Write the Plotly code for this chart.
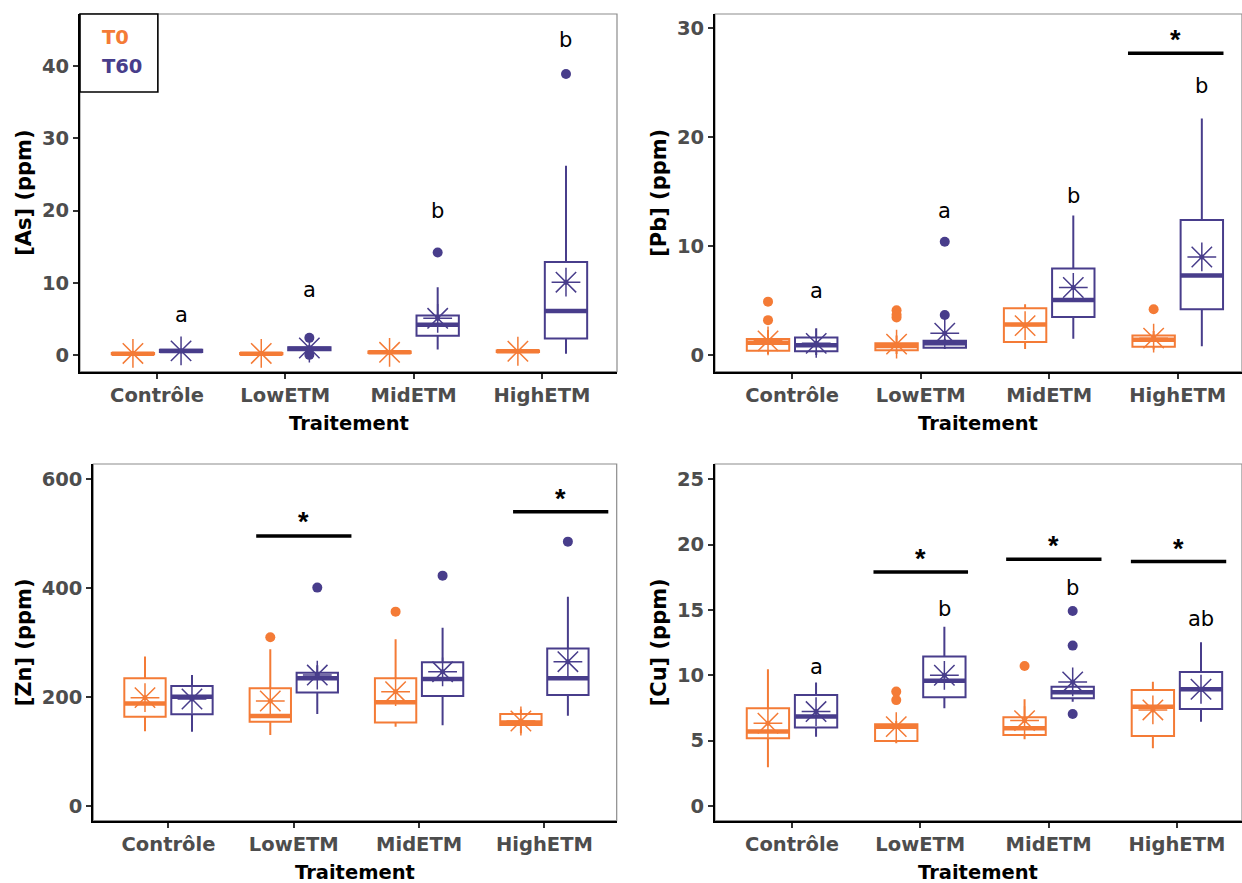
import plotly.graph_objects as go
from plotly.subplots import make_subplots

# ------------------------------------------------------------------ data
categories = ["Contrôle", "LowETM", "MidETM", "HighETM"]
groups = ["T0", "T60"]

# [As]
as_t0_q1 = [0.15, 0.15, 0.30, 0.45]
as_t0_med = [0.22, 0.22, 0.40, 0.55]
as_t0_q3 = [0.30, 0.30, 0.50, 0.65]
as_t0_lo = [0.05, 0.05, 0.15, 0.30]
as_t0_hi = [0.45, 0.40, 0.65, 0.80]
as_t0_mean = [0.25, 0.25, 0.40, 0.55]
as_t0_out = [[], [], [], []]
as_t60_q1 = [0.45, 0.70, 2.7, 2.3]
as_t60_med = [0.60, 0.90, 4.2, 6.1]
as_t60_q3 = [0.75, 1.10, 5.5, 12.9]
as_t60_lo = [0.30, 0.50, 0.8, 0.2]
as_t60_hi = [0.90, 1.40, 9.4, 26.2]
as_t60_mean = [0.60, 1.00, 5.1, 10.1]
as_t60_out = [[], [2.4, 0.05], [14.2], [38.9]]
as_letters = ["a", "a", "b", "b"]
as_letter_y = [5.5, 9.0, 20.0, 43.6]
as_sig = []            # (category, bar y, star y)

# [Pb]
pb_t0_q1 = [0.40, 0.45, 1.2, 0.75]
pb_t0_med = [1.13, 0.83, 2.8, 1.40]
pb_t0_q3 = [1.47, 1.07, 4.3, 1.80]
pb_t0_lo = [0.10, 0.10, 0.55, 0.50]
pb_t0_hi = [2.30, 1.80, 4.65, 2.20]
pb_t0_mean = [1.30, 1.00, 2.70, 1.55]
pb_t0_out = [[4.9, 3.2], [4.1, 3.7, 3.45], [], [4.2]]
pb_t60_q1 = [0.35, 0.67, 3.5, 4.2]
pb_t60_med = [0.90, 1.07, 5.05, 7.3]
pb_t60_q3 = [1.60, 1.30, 7.95, 12.4]
pb_t60_lo = [0.00, 0.55, 1.5, 0.8]
pb_t60_hi = [2.45, 1.50, 12.8, 21.7]
pb_t60_mean = [1.07, 2.00, 6.2, 9.0]
pb_t60_out = [[], [10.4, 3.67], [], []]
pb_letters = ["a", "a", "b", "b"]
pb_letter_y = [5.9, 13.2, 14.6, 24.7]
pb_sig = [("HighETM", 27.7, 29.6)]

# [Zn]
zn_t0_q1 = [163.6, 154.4, 153.0, 148.3]
zn_t0_med = [188.0, 164.9, 190.0, 153.0]
zn_t0_q3 = [234.0, 215.7, 234.0, 168.5]
zn_t0_lo = [137.0, 130.0, 145.0, 133.0]
zn_t0_hi = [274.0, 287.4, 306.0, 177.0]
zn_t0_mean = [198.6, 192.4, 209.5, 155.6]
zn_t0_out = [[], [309.5], [356.6], []]
zn_t60_q1 = [168.0, 207.8, 201.6, 203.4]
zn_t60_med = [200.4, 234.0, 232.8, 234.0]
zn_t60_q3 = [220.0, 244.5, 263.5, 289.0]
zn_t60_lo = [136.0, 168.5, 148.0, 165.4]
zn_t60_hi = [240.0, 258.0, 327.0, 384.0]
zn_t60_mean = [196.0, 240.0, 246.0, 264.7]
zn_t60_out = [[], [400.8], [422.8], [485.3]]
zn_letters = ["", "", "", ""]
zn_letter_y = [0, 0, 0, 0]
zn_sig = [("LowETM", 495.8, 534.4), ("HighETM", 540.4, 577.2)]

# [Cu]
cu_t0_q1 = [5.18, 4.97, 5.43, 5.36]
cu_t0_med = [5.69, 6.07, 5.94, 7.60]
cu_t0_q3 = [7.47, 6.25, 6.79, 8.88]
cu_t0_lo = [2.96, 4.80, 5.10, 4.41]
cu_t0_hi = [10.46, 6.50, 8.16, 9.50]
cu_t0_mean = [6.33, 6.07, 6.53, 7.35]
cu_t0_out = [[], [8.75, 8.1], [10.71], []]
cu_t60_q1 = [6.00, 8.32, 8.24, 7.42]
cu_t60_med = [6.84, 9.59, 8.70, 8.93]
cu_t60_q3 = [8.50, 11.43, 9.13, 10.26]
cu_t60_lo = [5.30, 7.47, 7.98, 6.45]
cu_t60_hi = [9.44, 13.72, 9.50, 12.53]
cu_t60_mean = [7.22, 10.00, 9.49, 8.93]
cu_t60_out = [[], [], [14.92, 12.27, 7.04], []]
cu_letters = ["a", "b", "b", "ab"]
cu_letter_y = [10.66, 15.1, 16.66, 14.3]
cu_sig = [("LowETM", 17.9, 19.46), ("MidETM", 18.88, 20.4), ("HighETM", 18.7, 20.2)]

as_ticks = [0, 10, 20, 30, 40]
pb_ticks = [0, 10, 20, 30]
zn_ticks = [0, 200, 400, 600]
cu_ticks = [0, 5, 10, 15, 20, 25]

# ------------------------------------------------------------------ style / layout
COL = {"T0": "#F47B36", "T60": "#483D8B"}
OFFSET = {"T0": -0.1875, "T60": 0.1875}
BOX_W = 0.33
FONT = "DejaVu Sans, Verdana, sans-serif"
STAR_FONT = "Liberation Sans, Arial, sans-serif"
TICK_SIZE = 19.5
YTITLE_SIZE = 21
W, H = 1242, 883

# panel pixel boxes (left, right, top, bottom) and axis ranges
PANEL_PX = [(80, 617, 14, 371.7), (715, 1242, 14, 371.7),
            (93.3, 616.7, 464, 820.7), (715, 1242, 464, 820.7)]
X_RANGE = [[0.4, 4.585], [0.4, 4.5], [0.4, 4.577], [0.4, 4.507]]
Y_RANGE = [[-2.28, 47.2], [-1.53, 31.3], [-27.6, 628], [-1.13, 26.17]]
YTITLE_X = [24, 659, 24, 659]
XTITLE_DY = 52
# significance bar span relative to category centre
BAR_SPAN = {1: {"HighETM": (-0.387, 0.356)},
            2: {"LowETM": (-0.30, 0.46), "HighETM": (-0.25, 0.51)},
            3: {"LowETM": (-0.365, 0.372), "MidETM": (-0.331, 0.412), "HighETM": (-0.359, 0.384)}}

panels = [
    dict(title="[As] (ppm)", ticks=as_ticks, letters=as_letters, letter_y=as_letter_y, sig=as_sig,
         T0=(as_t0_q1, as_t0_med, as_t0_q3, as_t0_lo, as_t0_hi, as_t0_mean, as_t0_out),
         T60=(as_t60_q1, as_t60_med, as_t60_q3, as_t60_lo, as_t60_hi, as_t60_mean, as_t60_out)),
    dict(title="[Pb] (ppm)", ticks=pb_ticks, letters=pb_letters, letter_y=pb_letter_y, sig=pb_sig,
         T0=(pb_t0_q1, pb_t0_med, pb_t0_q3, pb_t0_lo, pb_t0_hi, pb_t0_mean, pb_t0_out),
         T60=(pb_t60_q1, pb_t60_med, pb_t60_q3, pb_t60_lo, pb_t60_hi, pb_t60_mean, pb_t60_out)),
    dict(title="[Zn] (ppm)", ticks=zn_ticks, letters=zn_letters, letter_y=zn_letter_y, sig=zn_sig,
         T0=(zn_t0_q1, zn_t0_med, zn_t0_q3, zn_t0_lo, zn_t0_hi, zn_t0_mean, zn_t0_out),
         T60=(zn_t60_q1, zn_t60_med, zn_t60_q3, zn_t60_lo, zn_t60_hi, zn_t60_mean, zn_t60_out)),
    dict(title="[Cu] (ppm)", ticks=cu_ticks, letters=cu_letters, letter_y=cu_letter_y, sig=cu_sig,
         T0=(cu_t0_q1, cu_t0_med, cu_t0_q3, cu_t0_lo, cu_t0_hi, cu_t0_mean, cu_t0_out),
         T60=(cu_t60_q1, cu_t60_med, cu_t60_q3, cu_t60_lo, cu_t60_hi, cu_t60_mean, cu_t60_out)),
]

fig = make_subplots(rows=2, cols=2)
annotations = []
shapes = []

for i, p in enumerate(panels):
    row, col = i // 2 + 1, i % 2 + 1
    n = i + 1
    xref = "x" if n == 1 else f"x{n}"
    yref = "y" if n == 1 else f"y{n}"
    cat_pos = list(range(1, len(categories) + 1))

    for g in groups:
        q1, med, q3, lo, hi, mean, out = p[g]
        pos = [c + OFFSET[g] for c in cat_pos]
        fig.add_trace(go.Box(x=pos, q1=q1, median=med, q3=q3, lowerfence=lo, upperfence=hi,
                             orientation="v", width=BOX_W, boxpoints=False, whiskerwidth=0,
                             line=dict(color=COL[g], width=2), fillcolor="rgba(255,255,255,0)",
                             showlegend=False, hoverinfo="skip"), row=row, col=col)
        # thicker median
        mx, my = [], []
        for x, m in zip(pos, med):
            mx += [x - BOX_W / 2, x + BOX_W / 2, None]
            my += [m, m, None]
        fig.add_trace(go.Scatter(x=mx, y=my, mode="lines", line=dict(color=COL[g], width=4.5),
                                 showlegend=False, hoverinfo="skip"), row=row, col=col)
        # outliers
        ox, oy = [], []
        for x, vals in zip(pos, out):
            ox += [x] * len(vals)
            oy += vals
        fig.add_trace(go.Scatter(x=ox, y=oy, mode="markers",
                                 marker=dict(color=COL[g], size=10, symbol="circle"),
                                 showlegend=False, hoverinfo="skip"), row=row, col=col)
        # means
        fig.add_trace(go.Scatter(x=pos, y=mean, mode="markers",
                                 marker=dict(symbol="asterisk-open", size=24, color=COL[g],
                                             line=dict(color=COL[g], width=1.5)),
                                 showlegend=False, hoverinfo="skip"), row=row, col=col)
        fig.add_trace(go.Scatter(x=pos, y=mean, mode="markers",
                                 marker=dict(symbol="circle", size=5, color=COL[g]),
                                 showlegend=False, hoverinfo="skip"), row=row, col=col)

    # letters at T60 position
    for c, lab, ly in zip(cat_pos, p["letters"], p["letter_y"]):
        if lab:
            annotations.append(dict(x=c + OFFSET["T60"], y=ly, xref=xref, yref=yref, text=lab,
                                    showarrow=False, font=dict(family=FONT, size=21, color="black")))
    # significance bars
    for cat, by, sy in p["sig"]:
        c = categories.index(cat) + 1
        a, b = BAR_SPAN[i][cat]
        fig.add_trace(go.Scatter(x=[c + a, c + b], y=[by, by], mode="lines",
                                 line=dict(color="black", width=3.5),
                                 showlegend=False, hoverinfo="skip"), row=row, col=col)
        annotations.append(dict(x=c + (a + b) / 2, y=sy, xref=xref, yref=yref, text="*",
                                showarrow=False, yshift=-7,
                                font=dict(family=STAR_FONT, size=27, color="black", weight="bold")))

    l, r, t, b = PANEL_PX[i]
    fig.update_xaxes(domain=[l / W, r / W], range=X_RANGE[i], tickvals=cat_pos, ticktext=categories,
                     showline=True, linecolor="black", linewidth=2, mirror=False,
                     ticks="outside", ticklen=5, tickwidth=1.5, tickcolor="#333333",
                     showgrid=False, zeroline=False,
                     tickfont=dict(family=FONT, size=TICK_SIZE, color="#4D4D4D", weight="bold"),
                     row=row, col=col)
    fig.update_yaxes(domain=[1 - b / H, 1 - t / H], range=Y_RANGE[i], tickvals=p["ticks"],
                     showline=True, linecolor="black", linewidth=2, mirror=False,
                     ticks="outside", ticklen=5, tickwidth=1.5, tickcolor="#333333",
                     showgrid=False, zeroline=False,
                     tickfont=dict(family=FONT, size=TICK_SIZE, color="#4D4D4D", weight="bold"),
                     row=row, col=col)
    # panel border (top/right)
    shapes.append(dict(type="rect", xref=f"{xref} domain", yref=f"{yref} domain",
                       x0=0, x1=1, y0=0, y1=1, line=dict(color="#8C8C8C", width=1.2), layer="below"))
    # axis titles
    annotations.append(dict(x=(l + r) / 2 / W, y=1 - (b + XTITLE_DY) / H, xref="paper", yref="paper",
                            text="Traitement", showarrow=False, xanchor="center", yanchor="middle",
                            font=dict(family=FONT, size=TICK_SIZE, color="black", weight="bold")))
    annotations.append(dict(x=YTITLE_X[i] / W, y=1 - (t + b) / 2 / H, xref="paper", yref="paper",
                            text=p["title"], showarrow=False, textangle=-90,
                            xanchor="center", yanchor="middle",
                            font=dict(family=FONT, size=YTITLE_SIZE, color="black", weight="bold")))

# legend box in the first panel
shapes.append(dict(type="rect", xref="x domain", yref="y domain", x0=0, x1=0.145, y0=0.782, y1=1,
                   line=dict(color="black", width=1.6), fillcolor="white", layer="above"))
for g, yy in zip(groups, [0.933, 0.853]):
    annotations.append(dict(x=0.037, y=yy, xref="x domain", yref="y domain", text=g,
                            showarrow=False, xanchor="left", yanchor="middle",
                            font=dict(family=FONT, size=TICK_SIZE, color=COL[g], weight="bold")))

fig.update_layout(width=W, height=H, autosize=False, margin=dict(l=0, r=0, t=0, b=0),
                  plot_bgcolor="white", paper_bgcolor="white", showlegend=False,
                  boxmode="overlay", annotations=annotations, shapes=shapes)

fig.write_html("out.html", config={"displayModeBar": False},
               post_script="document.body.style.margin='0px';document.body.style.overflow='hidden';")
